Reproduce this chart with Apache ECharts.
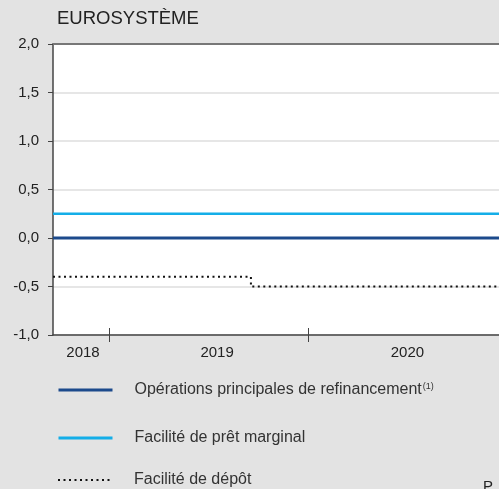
<!DOCTYPE html>
<html>
<head>
<meta charset="utf-8">
<script src="https://cdn.jsdelivr.net/npm/echarts@6/dist/echarts.min.js"></script>
<style>
  html, body { margin: 0; padding: 0; background: #e3e3e3; }
  #main { width: 499px; height: 489px; }
</style>
</head>
<body>
<div id="main"></div>
<script>
// visible window of the date axis
var xStart = "2018-09-20";
var xEnd = "2020-12-16";
var yearTicks = ["2019-01-01", "2020-01-01"];
var yearLabelPos = ["2018-11-14", "2019-07-18", "2020-07-01"];

// policy rates (%)
var mroDates = [xStart, xEnd];
var mroRates = [0, 0];
var mlfDates = [xStart, xEnd];
var mlfRates = [0.25, 0.25];
var dfDates = [xStart, "2019-09-18", xEnd];
var dfRates = [-0.4, -0.5, -0.5];

var names = [
  "Opérations principales de refinancement",
  "Facilité de prêt marginal",
  "Facilité de dépôt"
];

function ts(s) { return new Date(s + "T00:00:00Z").getTime(); }
function pairs(d, v) {
  return d.map(function (x, i) { return [ts(x), v[i]]; });
}

var chart = echarts.init(document.getElementById("main"));
var font = "Liberation Sans, Arial, sans-serif";

function dateAxis(extra) {
  var a = {
    type: "value",
    min: ts(xStart),
    max: ts(xEnd),
    offset: 0,
    splitLine: { show: false },
    axisLabel: { show: false },
    axisTick: { show: false }
  };
  for (var k in extra) a[k] = extra[k];
  return a;
}

function legendAt(i, top, lw) {
  return {
    orient: "vertical",
    left: 57,
    top: top,
    padding: 0,
    itemWidth: 54,
    itemHeight: 14,
    data: [names[i]],
    itemStyle: { opacity: 0 },
    lineStyle: { width: lw },
    textStyle: {
      fontSize: 16, color: "#333", fontFamily: font, padding: [0, 0, 0, 17],
      rich: { sup: { fontSize: 9, verticalAlign: "top", padding: [0, 0, 7, 1], color: "#333" } }
    },
    formatter: function (n) {
      return n === names[0] ? n + "{sup|(1)}" : n;
    }
  };
}

chart.setOption({
  backgroundColor: "#e3e3e3",
  animation: false,
  textStyle: { fontFamily: font },
  title: {
    text: "EUROSYSTÈME",
    left: 52,
    top: 4,
    textStyle: { fontSize: 18.5, fontWeight: "normal", color: "#222", fontFamily: font }
  },
  grid: {
    left: 53, top: 44, right: 0, bottom: 154,
    show: true, backgroundColor: "#fff", borderWidth: 0
  },
  legend: [legendAt(0, 382, 3), legendAt(1, 430, 3), legendAt(2, 472, 2)],
  xAxis: [
    dateAxis({
      position: "bottom",
      axisLine: { onZero: false, lineStyle: { color: "#444", width: 1.5 } },
      axisTick: {
        show: true,
        length: 7,
        lineStyle: { color: "#444" },
        customValues: yearTicks.map(ts)
      },
      axisLabel: {
        show: true,
        customValues: yearLabelPos.map(ts),
        formatter: function (v) { return String(new Date(v).getUTCFullYear()); },
        color: "#222",
        fontSize: 15,
        margin: 10
      }
    }),
    dateAxis({
      position: "bottom",
      axisLine: { show: false, onZero: false },
      axisTick: {
        show: true,
        inside: true,
        length: 7,
        lineStyle: { color: "#444" },
        customValues: yearTicks.map(ts)
      }
    }),
    dateAxis({
      position: "top",
      axisLine: { onZero: false, lineStyle: { color: "#777", width: 2 } }
    })
  ],
  yAxis: {
    type: "value",
    min: -1,
    max: 2,
    interval: 0.5,
    axisLine: { show: true, onZero: false, lineStyle: { color: "#444", width: 1.5 } },
    axisTick: { show: true, length: 5, lineStyle: { color: "#444" } },
    axisLabel: {
      color: "#222",
      fontSize: 15,
      margin: 14,
      formatter: function (v) { return v.toFixed(1).replace(".", ","); }
    },
    splitLine: { lineStyle: { color: "#dedede", width: 1.5 } }
  },
  series: [
    {
      name: names[0],
      type: "line",
      symbol: "none",
      data: pairs(mroDates, mroRates),
      lineStyle: { color: "#1c4a8c", width: 3 },
      itemStyle: { color: "#1c4a8c" },
      z: 4
    },
    {
      name: names[1],
      type: "line",
      symbol: "none",
      data: pairs(mlfDates, mlfRates),
      lineStyle: { color: "#14aee8", width: 2.5 },
      itemStyle: { color: "#14aee8" },
      z: 3
    },
    {
      name: names[2],
      type: "line",
      symbol: "none",
      step: "end",
      data: pairs(dfDates, dfRates),
      lineStyle: { color: "#111", width: 2, type: [2, 3.5] },
      itemStyle: { color: "#111" },
      z: 3
    }
  ],
  graphic: [
    {
      type: "text",
      left: 483,
      top: 479,
      style: { text: "P", fontSize: 15, fill: "#222", fontFamily: font }
    }
  ]
});
</script>
</body>
</html>
